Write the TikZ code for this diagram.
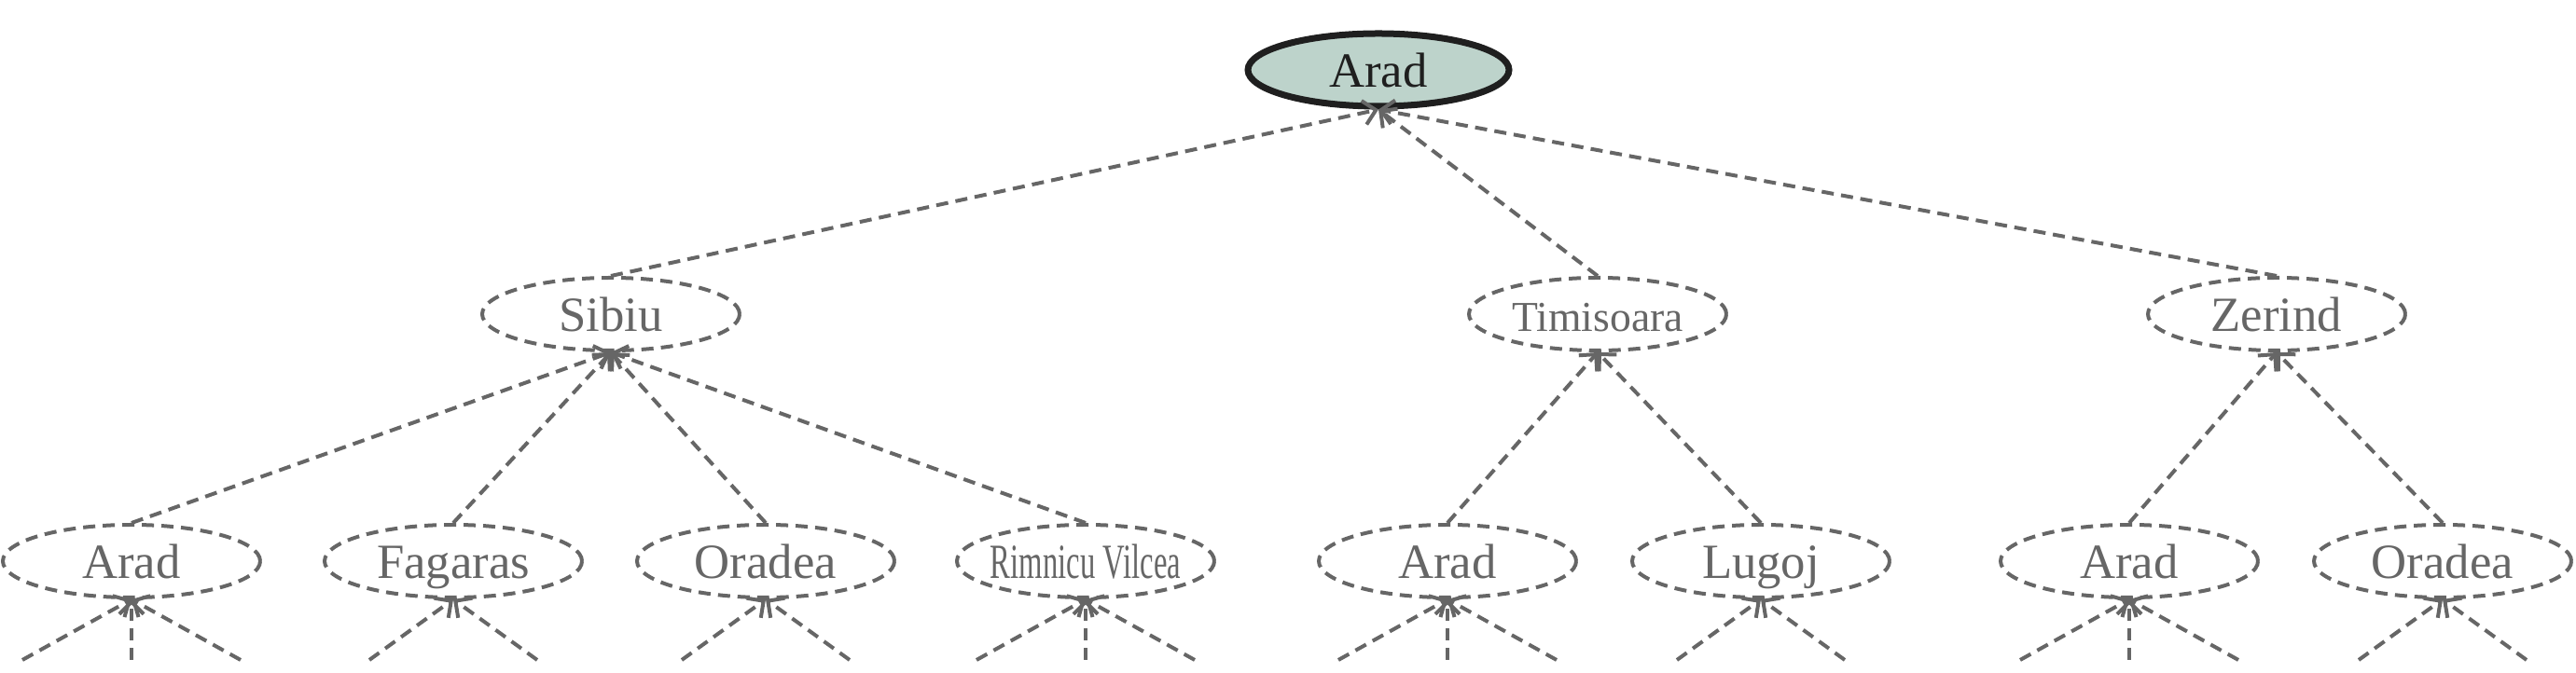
\documentclass[tikz,border=0pt]{standalone}
\usepackage{fontspec}
\setmainfont{Liberation Serif}
\usetikzlibrary{shapes.geometric,arrows.meta}
\definecolor{treegray}{RGB}{102,102,102}
\definecolor{rootfill}{RGB}{189,211,203}
\tikzset{
  city/.style={ellipse, draw=treegray, text=treegray, dash pattern=on 0.13cm off 0.08cm,
    line width=0.04cm, minimum width=2.76cm, minimum height=0.78cm, inner sep=0pt,
    text height=0.42cm, text depth=0.05cm, font=\fontsize{15}{18}\selectfont},
  rootcity/.style={ellipse, draw=black!88, fill=rootfill, text=black!88, line width=0.07cm,
    minimum width=2.8cm, minimum height=0.78cm, inner sep=0pt,
    text height=0.42cm, text depth=0.05cm, font=\fontsize{15}{18}\selectfont},
  road/.style={draw=treegray, line width=0.04cm, dash pattern=on 0.13cm off 0.08cm,
    -{Straight Barb[length=0.13cm,width=0.26cm]}}
}
\begin{document}
\begin{tikzpicture}
\useasboundingbox (0,0) rectangle (27.62,7.22);

\node[rootcity] (arad) at (14.78,6.47) {Arad};

\node[city] (sibiu) at (6.55,3.85) {Sibiu};
\node[city,font=\fontsize{13}{16}\selectfont] (timisoara) at (17.13,3.85) {Timisoara};
\node[city] (zerind) at (24.41,3.85) {Zerind};

\node[city] (aradS) at (1.41,1.2) {Arad};
\node[city] (fagaras) at (4.86,1.2) {Fagaras};
\node[city] (oradeaS) at (8.21,1.2) {Oradea};
\node[city] (rimnicu) at (11.64,1.2) {\makebox[0pt]{\scalebox{0.62}[1]{Rimnicu Vilcea}}};
\node[city] (aradT) at (15.52,1.2) {Arad};
\node[city] (lugoj) at (18.88,1.2) {Lugoj};
\node[city] (aradZ) at (22.83,1.2) {Arad};
\node[city] (oradeaZ) at (26.19,1.2) {Oradea};

\draw[road] (sibiu.north) -- (arad.south);
\draw[road] (timisoara.north) -- (arad.south);
\draw[road] (zerind.north) -- (arad.south);

\draw[road] (aradS.north) -- (sibiu.south);
\draw[road] (fagaras.north) -- (sibiu.south);
\draw[road] (oradeaS.north) -- (sibiu.south);
\draw[road] (rimnicu.north) -- (sibiu.south);
\draw[road] (aradT.north) -- (timisoara.south);
\draw[road] (lugoj.north) -- (timisoara.south);
\draw[road] (aradZ.north) -- (zerind.south);
\draw[road] (oradeaZ.north) -- (zerind.south);

% cut-off branches below the last row
\foreach \n/\x in {aradS/1.41,aradT/15.52,aradZ/22.83,rimnicu/11.64} {
  \coordinate (\n l) at (\x-1.17,0.14);
  \coordinate (\n m) at (\x,0.14);
  \coordinate (\n r) at (\x+1.17,0.14);
  \draw[road] (\n l) -- (\n.south);
  \draw[road] (\n m) -- (\n.south);
  \draw[road] (\n r) -- (\n.south);
}
\foreach \n/\x in {fagaras/4.86,oradeaS/8.21,lugoj/18.88,oradeaZ/26.19} {
  \coordinate (\n l) at (\x-0.9,0.14);
  \coordinate (\n r) at (\x+0.9,0.14);
  \draw[road] (\n l) -- (\n.south);
  \draw[road] (\n r) -- (\n.south);
}
\end{tikzpicture}
\end{document}
